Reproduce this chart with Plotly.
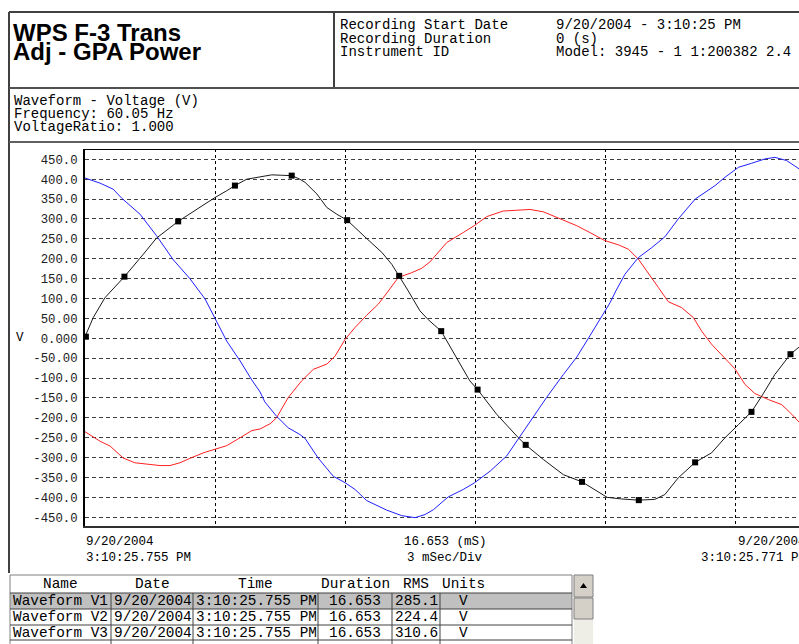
import plotly.graph_objects as go

# ---------------- data ----------------
# Waveform V1 (black) : time in ms, volts
t_v1 = [0.0, 0.19, 0.46, 0.91, 1.35, 1.65, 2.15, 2.58, 3.0, 3.27, 3.46, 3.73, 4.0, 4.31, 4.54,
        4.77, 4.96, 5.08, 5.35, 5.58, 5.81, 6.05, 6.46, 6.85, 7.08, 7.25, 7.46, 7.73, 7.92, 8.22,
        8.58, 8.88, 9.06, 9.5, 10.0, 10.17, 10.58, 11.04, 11.47, 11.81, 12.05, 12.38, 12.78, 13.15,
        13.38, 13.69, 14.08, 14.46, 14.77, 15.08, 15.38, 15.62, 15.92, 16.28, 16.48]
v1 = [4, 52, 102, 155, 212, 252, 294, 325, 354, 371, 384, 400, 406, 411, 410,
      409, 400, 392, 363, 329, 312, 297, 255, 216, 186, 157, 119, 69, 47, 18,
      -49, -107, -129, -191, -250, -268, -305, -343, -361, -385, -400, -404, -407, -405,
      -393, -351, -312, -288, -250, -217, -185, -145, -91, -40, -22]
# V1 point markers
t_v1_marks = [0.02, 0.91, 2.15, 3.46, 4.77, 6.05, 7.25, 8.22, 9.06, 10.17, 11.47, 12.78, 14.08, 15.38, 16.28]
v1_marks = [4, 155, 294, 384, 409, 297, 157, 18, -129, -268, -361, -407, -312, -185, -40]

# Waveform V2 (red)
t_v2 = [0.0, 0.35, 0.58, 0.88, 1.15, 1.42, 1.73, 1.96, 2.19, 2.42, 2.73, 3.0, 3.27, 3.58, 3.85,
        4.04, 4.27, 4.42, 4.69, 5.0, 5.27, 5.58, 5.77, 6.0, 6.23, 6.5, 6.77, 7.0, 7.23, 7.54,
        7.77, 7.96, 8.08, 8.35, 8.73, 8.98, 9.27, 9.65, 9.96, 10.27, 10.58, 10.88, 11.12, 11.35,
        11.65, 11.99, 12.31, 12.54, 12.77, 13.0, 13.23, 13.46, 13.77, 14.04, 14.23, 14.46, 14.73,
        15.0, 15.23, 15.46, 15.77, 16.08, 16.31, 16.48]
v2 = [-235, -259, -271, -301, -313, -317, -320, -320, -313, -302, -288, -279, -270, -250, -232,
      -228, -215, -200, -149, -107, -78, -65, -45, -3, 27, 58, 86, 119, 153, 165,
      176, 192, 207, 241, 266, 283, 306, 320, 322, 324, 318, 304, 292, 283,
      266, 246, 235, 224, 199, 165, 128, 92, 77, 52, 18, -15, -45,
      -77, -116, -139, -154, -167, -191, -211]

# Waveform V3 (blue)
t_v3 = [0.0, 0.35, 0.65, 0.85, 1.27, 1.65, 2.04, 2.42, 2.77, 3.0, 3.27, 3.58, 3.85, 4.04, 4.15,
        4.42, 4.69, 4.96, 5.08, 5.38, 5.73, 6.0, 6.23, 6.5, 6.96, 7.31, 7.62, 7.85, 8.04, 8.38,
        8.73, 8.98, 9.35, 9.73, 10.0, 10.27, 10.65, 11.04, 11.35, 11.65, 11.96, 12.12, 12.25,
        12.46, 12.77, 13.08, 13.38, 13.69, 14.08, 14.54, 14.77, 15.08, 15.38, 15.69, 15.92,
        16.19, 16.48]
v3 = [403, 390, 375, 352, 312, 258, 197, 150, 99, 50, -7, -57, -105, -135, -160,
      -196, -225, -242, -252, -301, -347, -363, -380, -408, -432, -446, -451, -443, -431, -399,
      -380, -364, -334, -296, -252, -208, -149, -91, -47, 6, 63, 90, 119,
      161, 203, 228, 255, 300, 350, 384, 405, 430, 440, 451, 455,
      447, 426]

y_tickvals = [450, 400, 350, 300, 250, 200, 150, 100, 50, 0,
              -50, -100, -150, -200, -250, -300, -350, -400, -450]
y_ticktext = ["450.0", "400.0", "350.0", "300.0", "250.0", "200.0", "150.0", "100.0", "50.00", "0.000",
              "-50.00", "-100.0", "-150.0", "-200.0", "-250.0", "-300.0", "-350.0", "-400.0", "-450.0"]
x_grid_ms = [3, 6, 9, 12, 15]

title_lines = ["WPS F-3 Trans", "Adj - GPA Power"]
header_labels = ["Recording Start Date", "Recording Duration", "Instrument ID"]
header_values = ["9/20/2004 - 3:10:25 PM", "0 (s)", "Model: 3945 - 1 1:200382 2.4"]
info_lines = ["Waveform - Voltage (V)", "Frequency: 60.05 Hz", "VoltageRatio: 1.000"]
x_left_labels = ["9/20/2004", "3:10:25.755 PM"]
x_mid_labels = ["16.653 (mS)", "3 mSec/Div"]
x_right_labels = ["9/20/2004", "3:10:25.771 PM"]
y_unit = "V"

table_columns = ["Name", "Date", "Time", "Duration", "RMS", "Units"]
table_names = ["Waveform V1", "Waveform V2", "Waveform V3"]
table_dates = ["9/20/2004", "9/20/2004", "9/20/2004"]
table_times = ["3:10:25.755 PM", "3:10:25.755 PM", "3:10:25.755 PM"]
table_durations = ["16.653", "16.653", "16.653"]
table_rms = ["285.1", "224.4", "310.6"]
table_units = ["V", "V", "V"]

# ---------------- layout helpers ----------------
W, H = 799, 644
PL, PR, PT, PB = 85, 799, 149, 526
MONO = "Liberation Mono"
SANS = "Liberation Sans"


def fx(p):
    return (p - PL) / (PR - PL)


def fy(p):
    return (PB - p) / (PB - PT)


shapes = []
annotations = []


def hline(x0, x1, y, color="#505050", width=1):
    shapes.append(dict(type="line", xref="paper", yref="paper", x0=fx(x0), x1=fx(x1),
                       y0=fy(y), y1=fy(y), line=dict(color=color, width=width)))


def vline(x, y0, y1, color="#505050", width=1):
    shapes.append(dict(type="line", xref="paper", yref="paper", x0=fx(x), x1=fx(x),
                       y0=fy(y0), y1=fy(y1), line=dict(color=color, width=width)))


def rect(x0, y0, x1, y1, fill, line_color=None, width=0):
    shapes.append(dict(type="rect", xref="paper", yref="paper", x0=fx(x0), x1=fx(x1),
                       y0=fy(y1), y1=fy(y0), fillcolor=fill, layer="below",
                       line=dict(color=line_color or fill, width=width)))


def text(x, y, s, size=14.4, anchor="left", family=MONO, color="#000", weight=None):
    f = dict(family=family, size=size, color=color)
    if weight:
        f["weight"] = weight
    annotations.append(dict(xref="paper", yref="paper", x=fx(x), y=fy(y), text=s,
                            showarrow=False, xanchor=anchor, yanchor="middle", font=f,
                            borderpad=0))


# ---------------- frames ----------------
hline(9, 799, 12, "#404040", 2)
vline(9, 12, 573, "#404040", 2)
vline(334, 12, 88, "#404040", 2)
hline(9, 799, 88, "#505050", 2)
hline(9, 799, 142, "#606060", 2)
hline(85, 799, 149.5, "#000", 1)

# title block
for s, y in zip(title_lines, [32, 51.5]):
    text(12, y, s, size=24, family=SANS, weight=700)
for s, y in zip(header_labels, [25.5, 38.8, 52.2]):
    text(339, y, s, size=14)
for s, y in zip(header_values, [25.5, 38.8, 52.2]):
    text(555, y, s, size=14)
for s, y in zip(info_lines, [101, 114.3, 127.5]):
    text(13, y, s, size=14)

# axis texts
text(15, 338, y_unit, size=12.5)
for s, y in zip(x_left_labels, [542, 558]):
    text(85, y, s, size=12.5)
for s, y in zip(x_mid_labels, [542, 558]):
    text(445, y, s, size=12.5, anchor="center")
for s, y in zip(x_right_labels, [542, 558]):
    text(807, y, s, size=12.5, anchor="right")

# ---------------- table ----------------
TL, TR = 10, 572
col_edges = [10, 111, 193, 318, 392, 440]
col_centers = [60.5, 152, 255.5, 355, 416, 463]
row_tops = [593, 609, 625, 640]
rect(TL, 593, TR, 609, "#c0c0c0")
hline(TL, TR, 575, "#808080", 1)
vline(TL, 575, 644, "#808080", 1)
vline(TR, 575, 644, "#808080", 1)
for y in row_tops:
    hline(TL, TR, y, "#404040", 1)
for x in col_edges[1:]:
    vline(x, 593, 644, "#404040", 1)
for s, cx in zip(table_columns, col_centers):
    text(cx, 584, s, anchor="center")
row_centers = [601, 617, 632.5]
for i, yc in enumerate(row_centers):
    text(12, yc, table_names[i])
    text(113, yc, table_dates[i])
    text(195, yc, table_times[i])
    text(col_centers[3], yc, table_durations[i], anchor="center")
    text(394, yc, table_rms[i])
    text(col_centers[5], yc, table_units[i], anchor="center")

# scrollbar
rect(574, 575, 593, 644, "#eeede6")
rect(574, 575, 593, 597, "#d4d0c8", "#808080", 1)
rect(574, 598, 593, 619, "#d4d0c8", "#808080", 1)
shapes.append(dict(type="path", xref="paper", yref="paper",
                   path="M %f,%f L %f,%f L %f,%f Z" % (fx(580), fy(588), fx(587), fy(588), fx(583.5), fy(583)),
                   fillcolor="#000", line=dict(color="#000", width=0)))

# ---------------- traces ----------------
fig = go.Figure()
fig.add_trace(go.Scatter(x=t_v2, y=v2, mode="lines", line=dict(color="#ff2020", width=1), name="V2"))
fig.add_trace(go.Scatter(x=t_v3, y=v3, mode="lines", line=dict(color="#2020ff", width=1), name="V3"))
fig.add_trace(go.Scatter(x=t_v1, y=v1, mode="lines", line=dict(color="#1a1a1a", width=1), name="V1"))
fig.add_trace(go.Scatter(x=t_v1_marks, y=v1_marks, mode="markers",
                         marker=dict(symbol="square", size=6, color="#000"), name="V1 points"))

fig.update_layout(
    width=W, height=H,
    margin=dict(l=PL, r=W - PR, t=PT, b=H - PB, pad=0),
    paper_bgcolor="#fff", plot_bgcolor="#fff",
    showlegend=False,
    shapes=shapes, annotations=annotations,
    xaxis=dict(range=[0, (PR - PL) * 3 / 130], tickvals=x_grid_ms, showticklabels=False,
               showgrid=True, gridcolor="#000", gridwidth=1, griddash="3px,3px",
               showline=True, linecolor="#303030", linewidth=2, ticks="", zeroline=False,
               fixedrange=True),
    yaxis=dict(range=[-472, 476], tickvals=y_tickvals, ticktext=y_ticktext,
               tickfont=dict(family=MONO, size=12.3, color="#202020"),
               showgrid=True, gridcolor="#404040", gridwidth=1, griddash="4px,3px",
               showline=True, linecolor="#000", linewidth=2, ticks="", zeroline=False,
               ticklabelstandoff=3, fixedrange=True),
)

fig.write_html("out.html", config={"displayModeBar": False},
               post_script="document.body.style.margin='0';document.body.style.overflow='hidden';")
